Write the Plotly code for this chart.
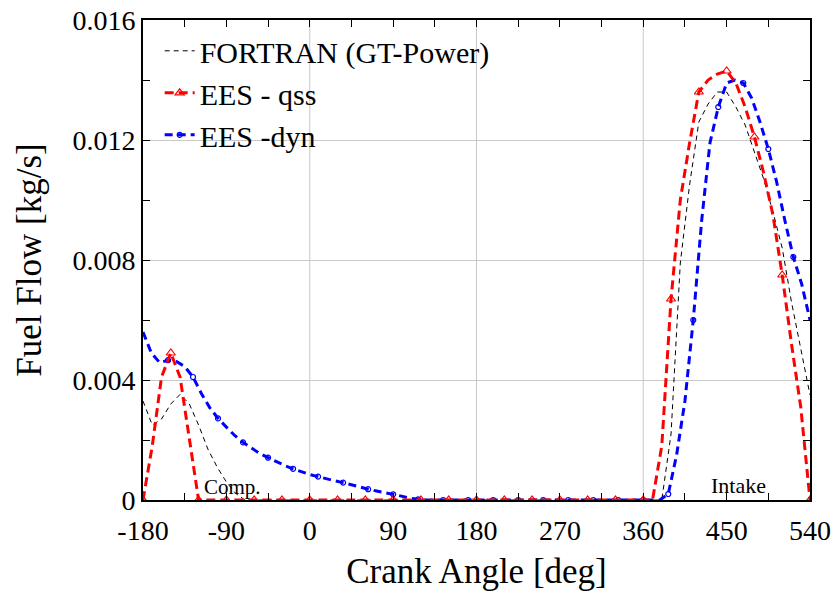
import plotly.graph_objects as go

# Crank angle grids (deg)
angle_10 = list(range(-180, 541, 10))
angle_9 = list(range(-180, 541, 9))

# FORTRAN (GT-Power) fuel flow [kg/s] on the 10-deg grid
fortran_flow = [
    0.0033, 0.0025, 0.0027, 0.0032, 0.00352, 0.0032, 0.0025, 0.0017, 0.0011, 0.0006,
    0.00022, 0.0, 0.0, 0.0, 0.0, 0.0, 0.0, 0.0, 0.0, 0.0,
    0.0, 0.0, 0.0, 0.0, 0.0, 0.0, 0.0, 0.0, 0.0, 0.0,
    0.0, 0.0, 0.0, 0.0, 0.0, 0.0, 0.0, 0.0, 0.0, 0.0,
    0.0, 0.0, 0.0, 0.0, 0.0, 0.0, 0.0, 0.0, 0.0, 0.0,
    0.0, 0.0, 0.0, 0.0, 0.0, 0.0, 0.0,
    0.0022, 0.0079, 0.0105, 0.0126, 0.0132, 0.0136, 0.0136, 0.0131, 0.0125, 0.0116,
    0.0107, 0.0096, 0.0084, 0.0066, 0.0050, 0.0035,
]

# EES quasi-steady fuel flow [kg/s] on the 10-deg grid
qss_flow = [
    0.0, 0.0018, 0.0041, 0.0049, 0.0041, 0.0021, 0.0,
    0.0, 0.0, 0.0, 0.0, 0.0, 0.0, 0.0, 0.0, 0.0, 0.0,
    0.0, 0.0, 0.0, 0.0, 0.0, 0.0, 0.0, 0.0, 0.0, 0.0,
    0.0, 0.0, 0.0, 0.0, 0.0, 0.0, 0.0, 0.0, 0.0, 0.0,
    0.0, 0.0, 0.0, 0.0, 0.0, 0.0, 0.0, 0.0, 0.0, 0.0,
    0.0, 0.0, 0.0, 0.0, 0.0, 0.0, 0.0, 0.0, 0.0,
    0.0018, 0.0067, 0.0100, 0.0119, 0.0136, 0.0140, 0.0142, 0.0143, 0.0139, 0.0131,
    0.0121, 0.0109, 0.0095, 0.0075, 0.0052, 0.0031, 0.0,
]

# EES dynamic fuel flow [kg/s] on the 9-deg grid
dyn_flow = [
    0.0056, 0.0049, 0.00458, 0.00466, 0.00462, 0.00445, 0.0041, 0.00355, 0.00308, 0.00272,
    0.00243, 0.00215, 0.00192, 0.00172, 0.00155, 0.00141, 0.00127, 0.00115, 0.00104, 0.00094,
    0.00085, 0.00078, 0.0007, 0.00064, 0.00058, 0.0005, 0.00042, 0.00036, 0.0003, 0.00025,
    0.00019, 0.00013, 0.00006, 0.00002,
    0.0, 0.0, 0.0, 0.0, 0.0, 0.0, 0.0, 0.0, 0.0, 0.0,
    0.0, 0.0, 0.0, 0.0, 0.0, 0.0, 0.0, 0.0, 0.0, 0.0,
    0.0, 0.0, 0.0, 0.0, 0.0, 0.0, 0.0, 0.0, 0.0,
    0.0002, 0.0015, 0.0033, 0.0060, 0.0093, 0.0119, 0.0131, 0.0139, 0.0140, 0.0139,
    0.0134, 0.0126, 0.0117, 0.0106, 0.0093, 0.0081, 0.0072, 0.0060,
]

x_tick_vals = [-180, -90, 0, 90, 180, 270, 360, 450, 540]
x_tick_text = ["-180", "-90", "0", "90", "180", "270", "360", "450", "540"]
x_grid_vals = [0, 180, 360]

series_names = ["FORTRAN (GT-Power)", "EES - qss", "EES -dyn"]

FONT = "Liberation Serif, Times New Roman, serif"
RED = "#ff0000"
BLUE = "#0000ff"

fig = go.Figure()

# Legend entries
fig.add_trace(go.Scatter(x=[None], y=[None], mode="lines", name=series_names[0],
                         line=dict(color="black", width=1, dash="5px,4px")))
fig.add_trace(go.Scatter(x=[None], y=[None], mode="lines+markers", name=series_names[1],
                         line=dict(color=RED, width=3, dash="9px,5px"),
                         marker=dict(symbol="triangle-up-open", size=8, color=RED,
                                     line=dict(width=1.2, color=RED))))
fig.add_trace(go.Scatter(x=[None], y=[None], mode="lines+markers", name=series_names[2],
                         line=dict(color=BLUE, width=3, dash="8px,5px"),
                         marker=dict(symbol="circle-open", size=5, color=BLUE,
                                     line=dict(width=1.2, color=BLUE))))

# FORTRAN curve
fig.add_trace(go.Scatter(x=angle_10, y=fortran_flow, mode="lines", showlegend=False,
                         line=dict(color="black", width=1, dash="5px,4px")))

# Dynamic EES curve + markers every third sample
fig.add_trace(go.Scatter(x=angle_9, y=dyn_flow, mode="lines", showlegend=False,
                         line=dict(color=BLUE, width=3, dash="8px,5px")))
fig.add_trace(go.Scatter(x=angle_9[3::3], y=dyn_flow[3::3], mode="markers", showlegend=False,
                         marker=dict(symbol="circle-open", size=5, color=BLUE,
                                     line=dict(width=1.2, color=BLUE))))

# Quasi-steady EES curve + markers every third sample
fig.add_trace(go.Scatter(x=angle_10, y=qss_flow, mode="lines", showlegend=False,
                         line=dict(color=RED, width=3, dash="9px,5px")))
fig.add_trace(go.Scatter(x=angle_10[0::3], y=qss_flow[0::3], mode="markers", showlegend=False,
                         marker=dict(symbol="triangle-up-open", size=8, color=RED,
                                     line=dict(width=1.2, color=RED))))

# Vertical grid lines every 180 deg
for gx in x_grid_vals:
    fig.add_shape(type="line", x0=gx, x1=gx, y0=0, y1=1, xref="x", yref="paper",
                  line=dict(color="#c8c8c8", width=1), layer="below")

fig.add_annotation(x=-83, y=0.00045, text="Comp.", showarrow=False,
                   font=dict(family=FONT, size=21, color="black"))
fig.add_annotation(x=463, y=0.00047, text="Intake", showarrow=False,
                   font=dict(family=FONT, size=22, color="black"))

fig.update_layout(
    width=836, height=595,
    margin=dict(l=143, r=26, t=20, b=95),
    paper_bgcolor="white", plot_bgcolor="white",
    font=dict(family=FONT, color="black"),
    showlegend=True,
    legend=dict(x=0.025, y=0.99, xanchor="left", yanchor="top",
                bgcolor="rgba(0,0,0,0)", borderwidth=0,
                font=dict(family=FONT, size=30, color="black"),
                itemwidth=30, tracegroupgap=0),
    xaxis=dict(
        range=[-180, 540], tickmode="array", tickvals=x_tick_vals, ticktext=x_tick_text,
        ticks="inside", ticklen=7, tickwidth=1, tickcolor="black",
        showline=True, linecolor="black", linewidth=2, mirror="ticks",
        showgrid=False, zeroline=False, ticklabelstandoff=4, automargin=False,
        minor=dict(tickmode="linear", tick0=-180, dtick=45, ticks="inside", ticklen=7,
                   tickwidth=1, tickcolor="black", showgrid=False),
        tickfont=dict(family=FONT, size=28, color="black"),
        title=dict(text="Crank Angle [deg]", font=dict(family=FONT, size=35, color="black"),
                   standoff=14),
    ),
    yaxis=dict(
        range=[0, 0.016], tickmode="linear", tick0=0, dtick=0.004,
        ticks="inside", ticklen=7, tickwidth=1, tickcolor="black",
        showline=True, linecolor="black", linewidth=2, mirror="ticks",
        showgrid=True, gridcolor="#c8c8c8", gridwidth=1, zeroline=False, automargin=False,
        minor=dict(tickmode="linear", tick0=0, dtick=0.002, ticks="inside", ticklen=7,
                   tickwidth=1, tickcolor="black", showgrid=False),
        tickfont=dict(family=FONT, size=28, color="black"),
        title=dict(text="Fuel Flow [kg/s]", font=dict(family=FONT, size=35, color="black"),
                   standoff=20),
    ),
)

fig.write_html("out.html")
